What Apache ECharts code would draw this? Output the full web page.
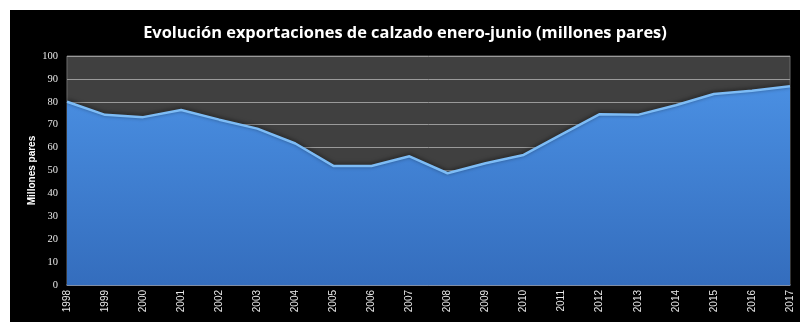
<!DOCTYPE html>
<html><head><meta charset="utf-8">
<script src="https://cdn.jsdelivr.net/npm/echarts@6/dist/echarts.min.js"></script>
<style>html,body{margin:0;padding:0;background:#fff}#c{width:810px;height:334px}</style>
</head><body><div id="c"></div>
<script>
const years = ['1998','1999','2000','2001','2002','2003','2004','2005','2006','2007','2008','2009','2010','2011','2012','2013','2014','2015','2016','2017'];
const exportsM = [80, 74.3, 73.3, 76.4, 72.2, 68.3, 61.8, 52, 52, 56.2, 48.8, 53.2, 56.8, 65.8, 74.6, 74.3, 78.5, 83.4, 84.8, 86.8];
const yTicks = {min: 0, max: 100, interval: 10};

const chart = echarts.init(document.getElementById('c'), null, {renderer: 'canvas'});
chart.setOption({
  animation: false,
  backgroundColor: '#fff',
  graphic: [{type: 'rect', z: -10, shape: {x: 10, y: 10, width: 790, height: 312}, style: {fill: '#000'}}],
  title: {
    text: 'Evolución exportaciones de calzado enero-junio (millones pares)',
    left: 'center', top: 20,
    textStyle: {color: '#fff', fontSize: 16.4, fontWeight: 'bold', fontFamily: 'Open Sans'}
  },
  grid: {left: 67, right: 20, top: 56, bottom: 49, show: true, backgroundColor: '#404040', borderColor: '#6a6a6a', borderWidth: 1},
  xAxis: {
    type: 'category', data: years, boundaryGap: false,
    axisLine: {show: true, lineStyle: {color: '#7a8aa8', width: 1.5}},
    axisTick: {show: false},
    axisLabel: {color: '#e8e8e8', rotate: 90, fontSize: 10, margin: 5, fontFamily: 'Liberation Sans', interval: 0},
    splitLine: {show: false}
  },
  yAxis: {
    type: 'value', min: yTicks.min, max: yTicks.max, interval: yTicks.interval,
    name: 'Millones pares', nameLocation: 'middle', nameGap: 30, nameRotate: 90, nameMoveOverlap: false,
    nameTextStyle: {color: '#fff', fontSize: 10, fontWeight: 'bold', fontFamily: 'Liberation Sans'},
    axisLine: {show: false}, axisTick: {show: false},
    axisLabel: {color: '#e8e8e8', fontSize: 10.5, margin: 9, fontFamily: 'Liberation Serif'},
    splitLine: {lineStyle: {color: '#9a9a9a', width: 1}}
  },
  series: [{
    type: 'line', data: exportsM, symbol: 'none',
    lineStyle: {color: '#7dbcf6', width: 2.5, shadowColor: 'rgba(0,0,0,0.6)', shadowBlur: 4, shadowOffsetY: -1},
    areaStyle: {opacity: 1, color: new echarts.graphic.LinearGradient(0, 0, 0, 1, [
      {offset: 0, color: '#4a8fe2'}, {offset: 1, color: '#346dbd'}])}
  }]
});
</script></body></html>
